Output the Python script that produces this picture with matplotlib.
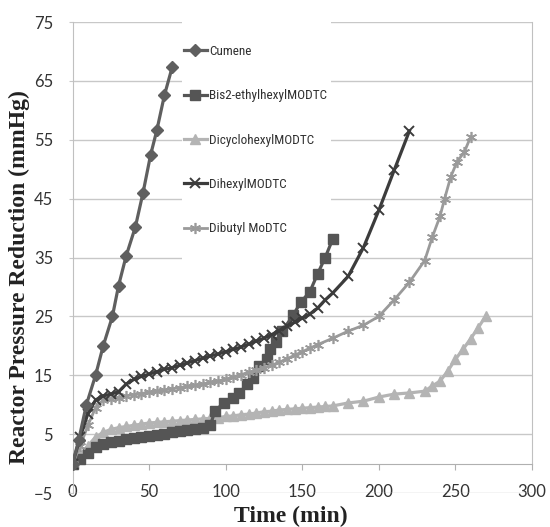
import matplotlib.pyplot as plt
from matplotlib.patches import Rectangle

# Time (min) and reactor pressure reduction (mmHg)
cumene_t = [0, 4, 9, 15, 20, 26, 30, 35, 41, 46, 51, 55, 60, 65]
cumene_p = [0, 4, 10, 15, 20, 25, 30.2, 35.3, 40.2, 46, 52.5, 56.6, 62.6, 67.3]

bis2_t = [0, 5, 10, 15, 20, 25, 30, 35, 40, 45, 50, 55, 60, 65, 70, 75, 80, 85, 90,
          93, 99, 105, 109, 114, 118, 122, 127, 129, 133, 137, 144, 149, 155, 160, 165, 170]
bis2_p = [0, 0.8, 1.8, 2.8, 3.3, 3.6, 3.9, 4.1, 4.3, 4.5, 4.7, 4.9, 5.1, 5.3, 5.5, 5.7, 5.9, 6.1, 6.5,
          9.0, 10.3, 11.2, 12.0, 13.5, 14.6, 16.6, 17.7, 19.4, 20.6, 22.5, 25.2, 27.4, 29.2, 32.2, 35.0, 38.2]

dicyclo_t = [0, 5, 10, 15, 20, 25, 30, 35, 40, 45, 50, 55, 60, 65, 70, 75, 80, 85, 90, 95, 100,
             105, 110, 115, 120, 125, 130, 135, 140, 145, 150, 155, 160, 165, 170,
             180, 190, 200, 210, 220, 230, 235, 240, 245, 250, 255, 260, 265, 270]
dicyclo_p = [0, 1.5, 3, 4.5, 5.3, 5.8, 6.1, 6.3, 6.5, 6.7, 6.9, 7.0, 7.1, 7.2, 7.3, 7.4, 7.5, 7.6, 7.7, 7.8, 8.0,
             8.1, 8.3, 8.4, 8.6, 8.8, 8.9, 9.1, 9.2, 9.3, 9.4, 9.5, 9.6, 9.7, 9.8,
             10.3, 10.6, 11.3, 11.8, 12.0, 12.3, 13.2, 14.0, 15.7, 17.7, 19.4, 21.2, 23.1, 25.1]

dihexyl_t = [0, 5, 10, 15, 20, 25, 30, 35, 40, 45, 50, 55, 60, 65, 70, 75, 80, 85, 90, 95, 100,
             105, 110, 115, 120, 125, 130, 135, 140, 145, 150, 155, 160, 165, 170,
             180, 190, 200, 210, 220]
dihexyl_p = [0, 4.5, 8.5, 10.8, 11.5, 11.8, 12.2, 13.5, 14.3, 14.8, 15.2, 15.6, 16.0, 16.3, 16.7, 17.1, 17.5, 17.9, 18.3, 18.6, 19.0,
             19.4, 19.8, 20.3, 20.8, 21.3, 21.9, 22.6, 23.3, 24.0, 24.7, 25.4, 26.4, 27.8, 29.0,
             31.8, 36.7, 43.0, 49.8, 56.5]

dibutyl_t = [0, 5, 10, 15, 20, 25, 30, 35, 40, 45, 50, 55, 60, 65, 70, 75, 80, 85, 90, 95, 100,
             105, 110, 115, 120, 125, 130, 135, 140, 145, 150, 155, 160, 170, 180, 190, 200,
             210, 220, 230, 235, 240, 243, 247, 251, 256, 260]
dibutyl_p = [0, 3, 6.5, 9.5, 10.8, 11.0, 11.2, 11.5, 11.7, 11.9, 12.1, 12.3, 12.5, 12.7, 12.9, 13.1, 13.3, 13.5, 13.8, 14.0, 14.3,
             14.7, 15.1, 15.5, 15.9, 16.3, 16.7, 17.2, 17.8, 18.4, 19.0, 19.6, 20.2, 21.3, 22.5, 23.5, 25.0,
             27.8, 30.8, 34.5, 38.5, 42.0, 45.0, 48.7, 51.2, 53.0, 55.5]

fig = plt.figure(figsize=(5.5, 5.27), dpi=100)
ax = fig.add_axes([0.132, 0.0645, 0.835, 0.8935])

ax.plot(cumene_t, cumene_p, color='#5f5f5f', lw=2.3, marker='D', ms=6.5, label='Cumene', zorder=6)
ax.plot(bis2_t, bis2_p, color='#555555', lw=2.3, marker='s', ms=7, label='Bis2-ethylhexylMODTC', zorder=3)
ax.plot(dicyclo_t, dicyclo_p, color='#b4b4b4', lw=2.3, marker='^', ms=7.5, label='DicyclohexylMODTC', zorder=2)
ax.plot(dihexyl_t, dihexyl_p, color='#3c3c3c', lw=2.3, marker='x', ms=7, mew=1.4, label='DihexylMODTC', zorder=5)
ax.plot(dibutyl_t, dibutyl_p, color='#9a9a9a', lw=2.0, marker=(6, 2, 0), ms=8, mew=1.2, label='Dibutyl MoDTC', zorder=4)

ax.set_xlim(0, 300)
ax.set_ylim(-5, 75)
ax.set_xticks(range(0, 301, 50))
ax.set_yticks(range(-5, 76, 10))
ax.grid(axis='y', color='#c8c8c8', lw=1)
ax.set_axisbelow(True)

ax.spines['top'].set_visible(False)
ax.spines['bottom'].set_position(('data', 0))
ax.spines['bottom'].set_color('#b0b0b0')
ax.spines['left'].set_color('#c0c0c0')
ax.spines['right'].set_color('#c0c0c0')
ax.spines['right'].set_bounds(0, 75)

tick_font = 'Lato'
ax.tick_params(axis='y', direction='out', length=3, color='#c8c8c8', pad=11, labelsize=12, labelcolor='#333333')
ax.tick_params(axis='x', direction='out', length=4.5, color='#b0b0b0', pad=10, labelsize=12, labelcolor='#333333')
for lab in ax.get_xticklabels() + ax.get_yticklabels():
    lab.set_fontfamily(tick_font)

ax.set_ylabel('Reactor Pressure Reduction (mmHg)', fontfamily='Liberation Serif', fontweight='bold',
              fontsize=17, color='#222222')
ax.yaxis.set_label_coords(-0.093, 0.458)
ax.set_xlabel('Time (min)', fontfamily='Liberation Serif', fontweight='bold', fontsize=17, color='#222222')
ax.xaxis.set_label_coords(0.475, -0.049)
ax.xaxis.label.set_va('center')

# white box behind the legend
ax.add_patch(Rectangle((0.238, 0.478), 0.325, 0.53, transform=ax.transAxes,
                       facecolor='white', edgecolor='none', zorder=1.8, clip_on=False))
leg = ax.legend(loc='upper left', bbox_to_anchor=(0.242, 0.952), frameon=False, borderpad=0,
                borderaxespad=0, handlelength=1.75, handletextpad=0.15, labelspacing=2.38,
                prop={'family': ['Roboto Condensed', 'Open Sans Condensed', 'Noto Sans'],
                      'stretch': 'condensed', 'size': 9.5})
for txt in leg.get_texts():
    txt.set_color('#303030')

fig.savefig('out.png', dpi=100)
